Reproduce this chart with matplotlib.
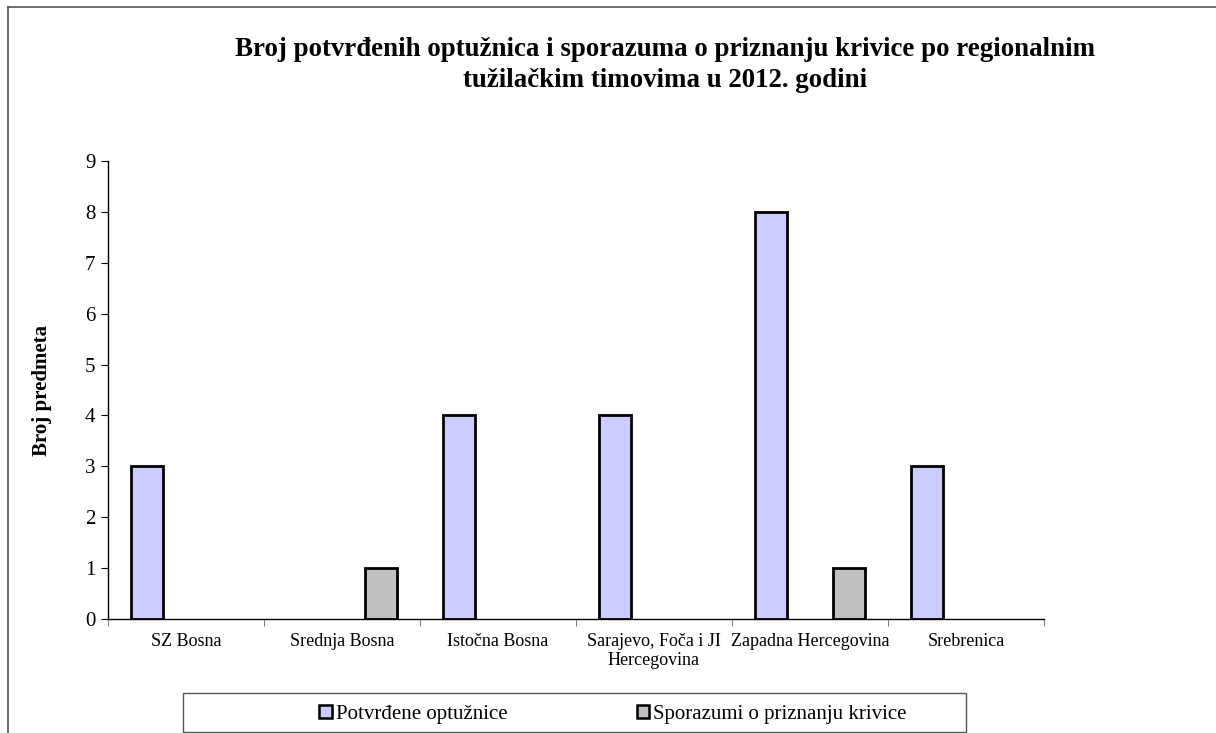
import numpy as np
import matplotlib
matplotlib.use("Agg")
import matplotlib.pyplot as plt
from matplotlib.patches import Rectangle
from matplotlib.lines import Line2D

# podaci
regions = ["SZ Bosna", "Srednja Bosna", "Istočna Bosna",
           "Sarajevo, Foča i JI\nHercegovina", "Zapadna Hercegovina", "Srebrenica"]
optuznice = [3, 0, 4, 4, 8, 3]
sporazumi = [0, 1, 0, 0, 1, 0]
series_names = ["Potvrđene optužnice", "Sporazumi o priznanju krivice"]
colors = ["#CCCCFF", "#C0C0C0"]

plt.rcParams["font.family"] = ["Liberation Serif", "DejaVu Serif"]

W, H = 1216, 733
fig = plt.figure(figsize=(W / 100, H / 100), dpi=100)
ax = fig.add_axes([108 / W, 1 - 619 / H, (1044 - 108) / W, (619 - 161) / H])

x = np.arange(len(regions))
bw = 0.2
for vals, off, c, name in [(optuznice, -0.25, colors[0], series_names[0]),
                           (sporazumi, 0.25, colors[1], series_names[1])]:
    v = np.array(vals, dtype=float)
    mask = v > 0
    ax.bar(x[mask] + off, v[mask], width=bw, color=c, edgecolor="black",
           linewidth=2.0, label=name)

ax.set_xlim(-0.5, len(regions) - 0.5)
ax.set_ylim(0, 9)
ax.set_yticks(range(0, 10))
ax.tick_params(axis="y", labelsize=15, length=5, width=0.8, direction="out", pad=4)
ax.set_xticks(x)
ax.set_xticklabels(regions, fontsize=13)
ax.tick_params(axis="x", which="major", length=0, pad=10)
ax.set_xticks(np.arange(-0.5, len(regions), 1), minor=True)
ax.tick_params(axis="x", which="minor", length=5, width=0.8, direction="out", color="gray")
for s in ["top", "right"]:
    ax.spines[s].set_visible(False)
ax.spines["left"].set_linewidth(1.0)
ax.spines["bottom"].set_linewidth(1.0)

ax.set_ylabel("Broj predmeta", fontsize=15, fontweight="bold", labelpad=24)

fig.text(665 / W, 1 - 65 / H,
         "Broj potvrđenih optužnica i sporazuma o priznanju krivice po regionalnim\n"
         "tužilačkim timovima u 2012. godini",
         ha="center", va="center", fontsize=19.4, fontweight="bold", linespacing=1.3)

# legenda
handles = [Rectangle((0, 0), 1, 1, facecolor=c, edgecolor="black", linewidth=1.8) for c in colors]
fig.legend(handles, series_names, loc="center", ncol=2, frameon=False,
           bbox_to_anchor=(613 / W, 1 - 714 / H), fontsize=15,
           handlelength=0.6, handleheight=0.6, handletextpad=0.2, columnspacing=6.2)
fig.patches.append(Rectangle((183 / W, 1 - 732 / H), (966 - 183) / W, (732 - 693) / H,
                             transform=fig.transFigure, fill=False,
                             edgecolor="#555555", linewidth=1.0))

# okvir
fig.lines.append(Line2D([8 / W, 8 / W], [0, 1 - 7 / H], transform=fig.transFigure,
                        color="#555555", linewidth=1.2))
fig.lines.append(Line2D([8 / W, 1], [1 - 7 / H, 1 - 7 / H], transform=fig.transFigure,
                        color="#555555", linewidth=1.2))

fig.savefig("out.png", dpi=100)
